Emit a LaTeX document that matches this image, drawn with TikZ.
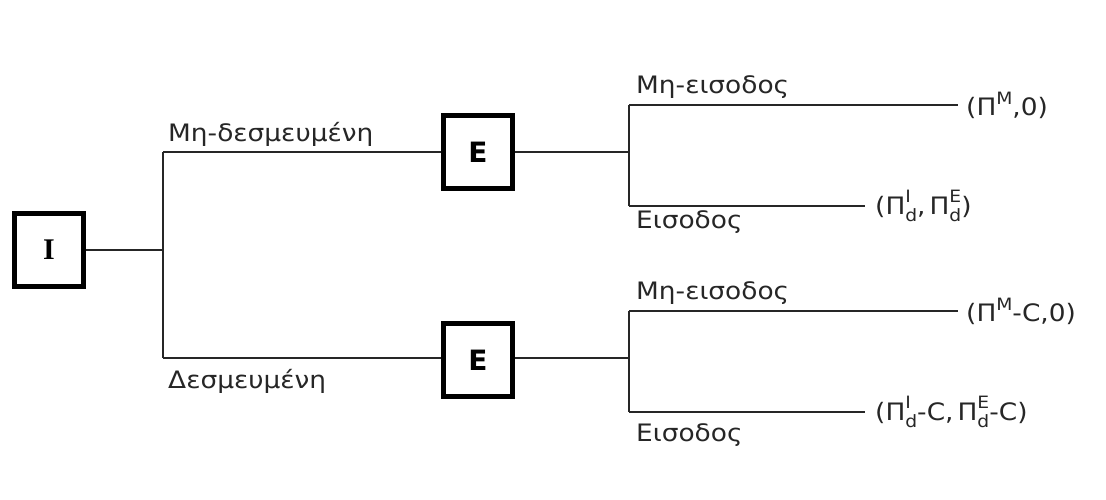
\documentclass[tikz,border=0pt]{standalone}
\usepackage{fontspec}
\setmainfont{DejaVu Sans}[FakeStretch=1.1]
\newfontfamily\boxserif{Liberation Serif}
\newfontfamily\boxsans{DejaVu Sans}
\newcommand\sps[1]{\raisebox{0.85ex}{\fontsize{17}{17}\selectfont #1}}
\newcommand\PiSS[2]{Π\makebox[0pt][l]{\raisebox{0.9ex}{\fontsize{17}{17}\selectfont #1}}\raisebox{-0.55ex}{\fontsize{17}{17}\selectfont #2}}
\begin{document}
\begin{tikzpicture}[x=1pt,y=-1pt,
  tline/.style={line width=2.8pt,draw=black!85},
  decbox/.style={draw=black,line width=4.4pt,minimum width=69pt,minimum height=73pt,inner sep=0pt,fill=white,font=\fontsize{28}{30}\selectfont\boxsans\bfseries},
  lbl/.style={font=\fontsize{24}{26}\selectfont,inner sep=0pt,text=black!85},
  pay/.style={font=\fontsize{24}{26}\selectfont,inner sep=0pt,anchor=west,text=black!85}]
\useasboundingbox (0,0) rectangle (1106,499);
% decision nodes
\node[decbox,font=\fontsize{30}{32}\selectfont\boxserif\bfseries] (I) at (49,250) {I};
\node[decbox] (E1) at (478,152) {E};
\node[decbox] (E2) at (478,360) {E};
% branch points
\coordinate (b0) at (163,250);
\coordinate (b0u) at (163,152);
\coordinate (b0d) at (163,358);
\coordinate (c1) at (629,152);
\coordinate (c1u) at (629,105);
\coordinate (c1d) at (629,206);
\coordinate (c2) at (629,358);
\coordinate (c2u) at (629,311);
\coordinate (c2d) at (629,412);
\coordinate (e11) at (958,105);
\coordinate (e12) at (865,206);
\coordinate (e21) at (958,311);
\coordinate (e22) at (865,412);
% first stage
\draw[tline] (I.east) -- (b0);
\draw[tline] (b0u) -- (b0d);
\draw[tline] (b0u) -- (b0u -| E1.west);
\draw[tline] (b0d) -- (b0d -| E2.west);
% second stage
\draw[tline] (E1.east |- c1) -- (c1);
\draw[tline] (c1u) -- (c1d);
\draw[tline] (c1u) -- (e11);
\draw[tline] (c1d) -- (e12);
\draw[tline] (E2.east |- c2) -- (c2);
\draw[tline] (c2u) -- (c2d);
\draw[tline] (c2u) -- (e21);
\draw[tline] (c2d) -- (e22);
% branch labels
\node[lbl,anchor=base west] (l1) at (168,141) {Μη-δεσμευμένη};
\node[lbl,anchor=base west] (l2) at (168,388) {Δεσμευμένη};
\node[lbl,anchor=base west] (l3) at (636,93) {Μη-εισοδος};
\node[lbl,anchor=base west] (l4) at (636,228) {Εισοδος};
\node[lbl,anchor=base west] (l5) at (636,299) {Μη-εισοδος};
\node[lbl,anchor=base west] (l6) at (636,441) {Εισοδος};
% payoffs
\node[pay] (p1) at (966,105) {(Π\sps{M},0)};
\node[pay] (p2) at (875,206) {(\PiSS{I}{d},\,\PiSS{E}{d})};
\node[pay] (p3) at (966,311) {(Π\sps{M}-C,0)};
\node[pay] (p4) at (875,412) {(\PiSS{I}{d}-C,\,\PiSS{E}{d}-C)};
\end{tikzpicture}
\end{document}
